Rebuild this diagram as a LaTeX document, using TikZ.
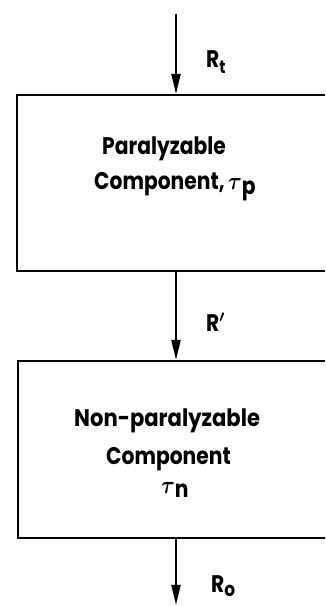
\documentclass[tikz,border=0pt]{standalone}
\usepackage{amsmath}
\usepackage{graphicx}
\usepackage{fontspec}
\setmainfont{Poppins}
\usetikzlibrary{arrows.meta}
\newcommand{\narrowtxt}[1]{\scalebox{0.845}[1]{#1}}
\begin{document}
\begin{tikzpicture}[x=1pt,y=1pt,
  blk/.style={draw, line width=2.4pt, rectangle, inner sep=0pt, anchor=north west},
  lbl/.style={font=\fontsize{24}{26}\selectfont\bfseries, inner sep=0pt, anchor=base west},
  flow/.style={line width=2.2pt, -{Triangle[length=20pt,width=9pt]}}]
\clip (0,0) rectangle (325,606);
\node[blk, minimum width=330pt, minimum height=176pt] (b1) at (16,512) {};
\node[blk, minimum width=330pt, minimum height=177pt] (b2) at (17,246) {};
\coordinate (top) at (176,592);
\coordinate (bot) at (176,1);
\draw[flow] (top) -- (top |- b1.north);
\draw[flow] (top |- b1.south) -- (top |- b2.north);
\draw[flow] (top |- b2.south) -- (bot);
\node[lbl] (rt) at (206,538) {\narrowtxt{R\raisebox{-6pt}{\fontsize{18}{18}\selectfont t}}};
\node[lbl] (rp) at (206,274) {\narrowtxt{R$\boldsymbol{'}$}};
\node[lbl] (ro) at (211,13) {\narrowtxt{R\raisebox{-4pt}{\fontsize{20}{20}\selectfont o}}};
\node[lbl] (t1) at (102,451) {\narrowtxt{Paralyzable}};
\node[lbl] (t2) at (94,416) {\narrowtxt{Component,\,{\fontsize{28}{28}\selectfont$\boldsymbol{\tau}$}\raisebox{-5pt}{p}}};
\node[lbl] (t3) at (74,179) {\scalebox{0.88}[1]{Non-paralyzable}};
\node[lbl] (t4) at (106,141) {\narrowtxt{Component}};
\node[lbl] (t5) at (161,112) {\narrowtxt{{\fontsize{28}{28}\selectfont$\boldsymbol{\tau}$}\raisebox{-4pt}{n}}};
\end{tikzpicture}
\end{document}
